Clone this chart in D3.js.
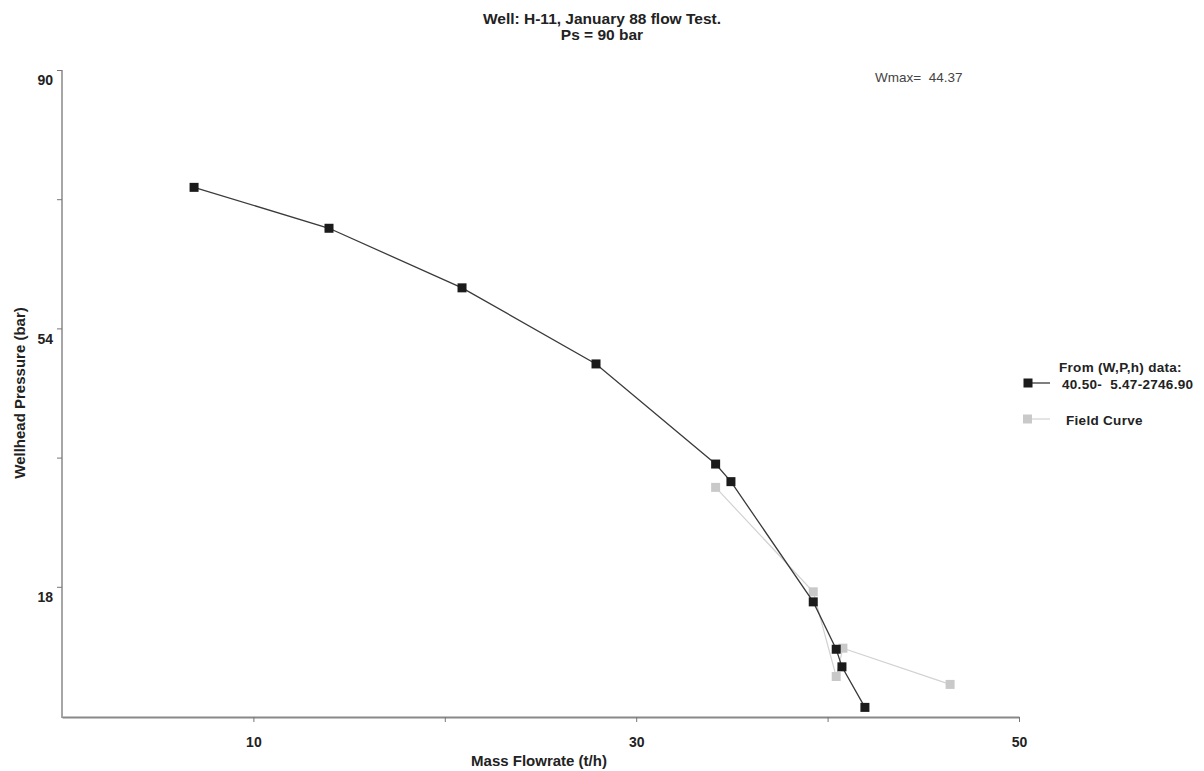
<!DOCTYPE html>
<html>
<head>
<meta charset="utf-8">
<script src="https://cdn.jsdelivr.net/npm/d3@7"></script>
<style>
  body { margin: 0; background: #fff; }
  svg { display: block; }
  text { font-family: "Liberation Sans", Arial, sans-serif; fill: #222; white-space: pre; }
  .bold { font-weight: bold; }
  .axis text { font-family: "Liberation Sans", Arial, sans-serif; font-weight: bold; font-size: 14px; fill: #222; }
  .legend text { font-weight: bold; font-size: 13.5px; letter-spacing: 0.3px; }
</style>
</head>
<body>
<svg id="chart" width="1204" height="771"></svg>
<script>
/* Well H-11 deliverability curve */
const flowRate = [6.9, 13.95, 20.9, 27.9, 34.15, 34.95, 39.25, 40.45, 40.75, 41.95]
const pressure = [73.65, 67.95, 59.65, 49.05, 35.1, 32.65, 15.9, 9.3, 6.85, 1.2]
const fieldFlow = [34.15, 39.25, 40.45, 40.8, 46.4]
const fieldPress = [31.85, 17.3, 5.5, 9.45, 4.4]
const xTicks = [10, 20, 30, 40, 50]
const xLabels = [10, 30, 50]
const yTicks = [18, 36, 54, 72, 90]
const yLabels = [18, 54, 90]

const calcPts = flowRate.map((w, i) => ({ w, p: pressure[i] }))
const fieldPts = fieldFlow.map((w, i) => ({ w, p: fieldPress[i] }))

const svg = d3.select('#chart')

const x = d3.scaleLinear()
    .domain([0, 50])
    .range([62, 1019])

const y = d3.scaleLinear()
    .domain([0, 90])
    .range([716, 70])

const xAxis = d3.axisBottom(x)
    .tickValues(xTicks)
    .tickSize(5)
    .tickSizeOuter(0)
    .tickPadding(15)
    .tickFormat(d => xLabels.includes(d) ? d : '')

const yAxis = d3.axisLeft(y)
    .tickValues(yTicks)
    .tickSize(5)
    .tickSizeOuter(0)
    .tickPadding(4)
    .tickFormat(d => yLabels.includes(d) ? d : '')

const gx = svg.append('g')
    .attr('class', 'axis')
    .attr('transform', `translate(0,${y(0) + 1})`)
    .call(xAxis)
gx.select('.domain').attr('stroke', '#888').attr('stroke-width', 2.2)
gx.selectAll('.tick line').attr('stroke', '#777')

const gy = svg.append('g')
    .attr('class', 'axis')
    .attr('transform', `translate(${x(0)},0)`)
    .call(yAxis)
gy.select('.domain').attr('stroke', '#888').attr('stroke-width', 1.5)
    .attr('d', `M0,${y(90)}V${y(0) + 2}`)
gy.selectAll('.tick line').attr('stroke', '#777')
gy.selectAll('.tick text').attr('dy', '1.05em')

const line = d3.line()
    .x(d => x(d.w))
    .y(d => y(d.p))

// field curve (grey) underneath
svg.append('path')
    .datum(fieldPts)
    .attr('d', line)
    .attr('fill', 'none')
    .attr('stroke', '#d2d2d2')
    .attr('stroke-width', 1.2)

svg.selectAll('.fieldpt')
    .data(fieldPts)
    .enter()
    .append('rect')
    .attr('x', d => x(d.w) - 4.5)
    .attr('y', d => y(d.p) - 4.5)
    .attr('width', 9)
    .attr('height', 9)
    .attr('fill', '#c9c9c9')

svg.append('path')
    .datum(calcPts)
    .attr('d', line)
    .attr('fill', 'none')
    .attr('stroke', '#3a3a3a')
    .attr('stroke-width', 1.3)

svg.selectAll('.calcpt')
    .data(calcPts)
    .enter()
    .append('rect')
    .attr('x', d => x(d.w) - 4.5)
    .attr('y', d => y(d.p) - 4.5)
    .attr('width', 9)
    .attr('height', 9)
    .attr('fill', '#1b1b1b')

// titles
svg.append('text').attr('class', 'bold')
    .attr('x', 602).attr('y', 24)
    .attr('text-anchor', 'middle')
    .style('font-size', '15.5px')
    .text('Well: H-11, January 88 flow Test.')
svg.append('text').attr('class', 'bold')
    .attr('x', 602).attr('y', 40)
    .attr('text-anchor', 'middle')
    .style('font-size', '15.5px')
    .text('Ps = 90 bar')

svg.append('text')
    .attr('x', 875).attr('y', 82)
    .style('font-size', '13.5px')
    .style('fill', '#444')
    .text('Wmax=  44.37')

svg.append('text').attr('class', 'bold')
    .attr('x', 539).attr('y', 766)
    .attr('text-anchor', 'middle')
    .style('font-size', '15px')
    .text('Mass Flowrate (t/h)')

svg.append('text').attr('class', 'bold')
    .attr('transform', `translate(25,${(y(0) + y(90)) / 2}) rotate(-90)`)
    .attr('text-anchor', 'middle')
    .style('font-size', '15px')
    .text('Wellhead Pressure (bar)')

// legend
const legend = svg.append('g').attr('class', 'legend')
legend.append('text').attr('x', 1059).attr('y', 372).text('From (W,P,h) data:')
legend.append('line').attr('x1', 1028).attr('x2', 1050).attr('y1', 383).attr('y2', 383)
    .attr('stroke', '#3a3a3a').attr('stroke-width', 1.3)
legend.append('rect').attr('x', 1023.5).attr('y', 378.5).attr('width', 9).attr('height', 9)
    .attr('fill', '#1b1b1b')
legend.append('text').attr('x', 1062).attr('y', 389).text('40.50-  5.47-2746.90')
legend.append('line').attr('x1', 1027).attr('x2', 1050).attr('y1', 419).attr('y2', 419)
    .attr('stroke', '#d2d2d2').attr('stroke-width', 1.2)
legend.append('rect').attr('x', 1023).attr('y', 414.5).attr('width', 9).attr('height', 9)
    .attr('fill', '#c9c9c9')
legend.append('text').attr('x', 1066).attr('y', 425).text('Field Curve')
</script>
</body>
</html>
